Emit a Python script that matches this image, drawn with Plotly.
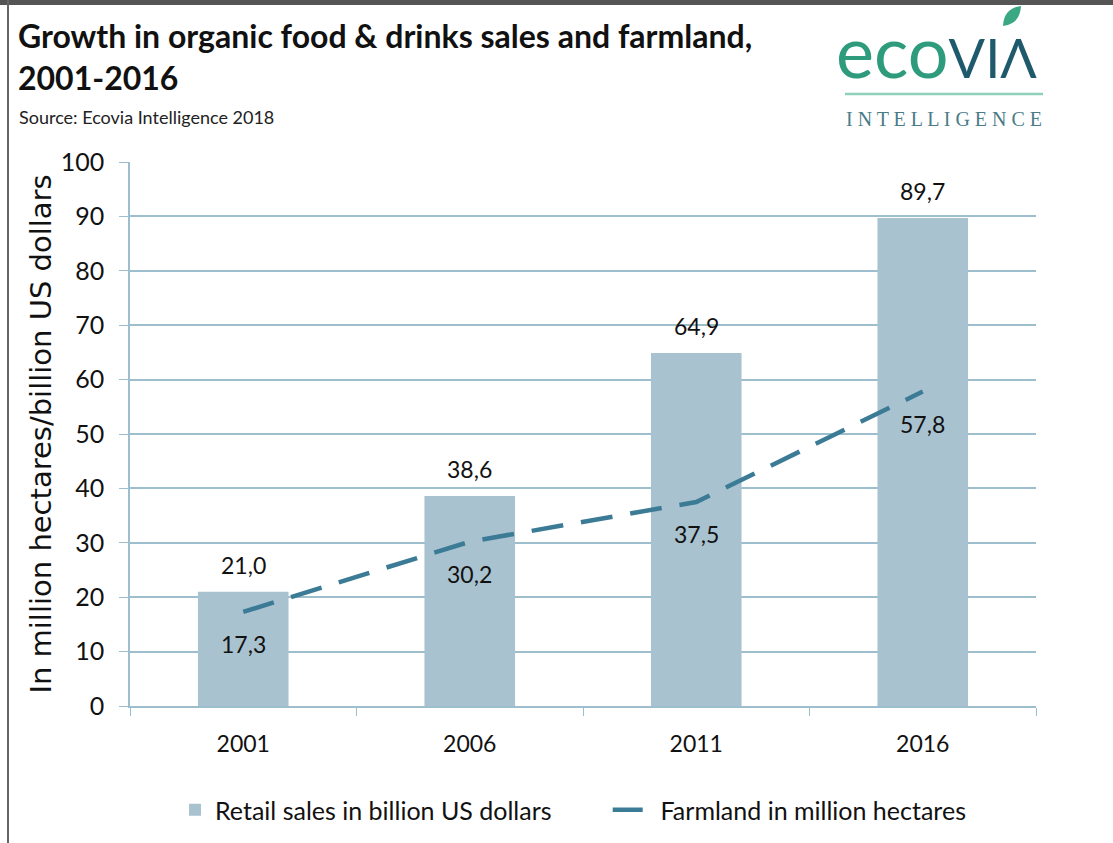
import plotly.graph_objects as go

years = ["2001", "2006", "2011", "2016"]
retail_sales = [21.0, 38.6, 64.9, 89.7]
farmland = [17.3, 30.2, 37.5, 57.8]
y_ticks = [0, 10, 20, 30, 40, 50, 60, 70, 80, 90, 100]

W, H = 1113, 843
L, R, T, B = 130, 1036, 162, 706


def px(x):
    return (x - L) / (R - L)


def py(y):
    return (B - y) / (B - T)


def fmt(v):
    return f"{v:.1f}".replace(".", ",")


FONT = "Lato"
BAR_C = "#a9c2d0"
LINE_C = "#3c7b96"
GRID_C = "#9dbfcd"

fig = go.Figure()
fig.add_trace(go.Bar(
    x=years, y=retail_sales, name="Retail sales in billion US dollars" + "\u00a0" * 8,
    marker=dict(color=BAR_C, line=dict(width=0)), width=0.4,
))
fig.add_trace(go.Scatter(
    x=years, y=farmland, name="\u00a0\u00a0Farmland in million hectares",
    mode="lines", line=dict(color=LINE_C, width=4.5, dash="32px,18px"),
))

shapes = [
    dict(type="rect", xref="paper", yref="paper", x0=px(0), x1=px(W), y0=py(0), y1=py(5),
         fillcolor="#555555", line=dict(width=0), layer="above"),
    dict(type="rect", xref="paper", yref="paper", x0=px(7), x1=px(9), y0=py(0), y1=py(H),
         fillcolor="#666666", line=dict(width=0), layer="above"),
    dict(type="line", xref="paper", yref="paper", x0=px(845), x1=px(1043), y0=py(94), y1=py(94),
         line=dict(color="#8fd0bd", width=2.5)),
    dict(type="path", xref="paper", yref="paper",
         path=f"M {px(1003)},{py(26)} Q {px(1004)},{py(8)} {px(1021)},{py(6)} Q {px(1020)},{py(24)} {px(1003)},{py(26)} Z",
         fillcolor="#3aa882", line=dict(width=0)),
]

annotations = [
    dict(xref="paper", yref="paper", x=px(16), y=py(14), xanchor="left", yanchor="top",
         text="<b>Growth in organic food &amp; drinks sales and farmland,<br>2001-2016</b>",
         showarrow=False, align="left", font=dict(family=FONT, size=32, color="#111111")),
    dict(xref="paper", yref="paper", x=px(17), y=py(117), xanchor="left", yanchor="middle",
         text="Source: Ecovia Intelligence 2018", showarrow=False,
         font=dict(family=FONT, size=18, color="#222222")),
    dict(xref="paper", yref="paper", x=px(834), y=py(50), xanchor="left", yanchor="middle",
         text='<span style="color:#2e9c7c">eco</span><span style="color:#1e5a6c;font-size:54px">VIΛ</span>',
         showarrow=False, font=dict(family="Lato", size=72, color="#2e9c7c")),
    dict(xref="paper", yref="paper", x=px(944), y=py(119), xanchor="center", yanchor="middle",
         text="I N T E L L I G E N C E", showarrow=False,
         font=dict(family="Liberation Serif", size=20, color="#4a7c88")),
]

for i, v in enumerate(retail_sales):
    annotations.append(dict(x=i, y=v, xref="x", yref="y", text=fmt(v), showarrow=False,
                            yanchor="middle", yshift=27,
                            font=dict(family=FONT, size=23, color="#111111")))
for i, v in enumerate(farmland):
    annotations.append(dict(x=i, y=v, xref="x", yref="y", text=fmt(v), showarrow=False,
                            yanchor="middle", yshift=-32,
                            font=dict(family=FONT, size=23, color="#111111")))

fig.update_layout(
    width=W, height=H,
    margin=dict(l=L, r=W - R, t=T, b=H - B, autoexpand=False),
    paper_bgcolor="white", plot_bgcolor="white",
    font=dict(family=FONT, size=22, color="#111111"),
    showlegend=True,
    legend=dict(orientation="h", x=px(175), y=py(810), xanchor="left", yanchor="middle",
                font=dict(family=FONT, size=25, color="#111111"), itemwidth=30,
                bgcolor="rgba(0,0,0,0)"),
    shapes=shapes, annotations=annotations,
    xaxis=dict(type="category", range=[-0.5, 3.5], showgrid=False, showline=True,
               linecolor=GRID_C, linewidth=1.5,
               ticks="outside", tickson="boundaries", ticklen=8, tickcolor=GRID_C,
               ticklabelstandoff=17,
               tickfont=dict(size=23, color="#111111"), fixedrange=True),
    yaxis=dict(range=[0, 100], tickvals=y_ticks, showgrid=True, gridcolor=GRID_C, gridwidth=1.5,
               showline=True, linecolor=GRID_C, linewidth=1.5, ticks="outside", ticklen=9,
               tickcolor=GRID_C, ticklabelstandoff=10,
               tickfont=dict(size=25, color="#111111"), zeroline=False,
               title=dict(text="In million hectares/billion US dollars",
                          font=dict(family="DejaVu Sans", size=29, color="#111111"), standoff=1)),
)

fig.write_html("out.html", config={"displayModeBar": False},
               post_script="document.body.style.margin='0';")
